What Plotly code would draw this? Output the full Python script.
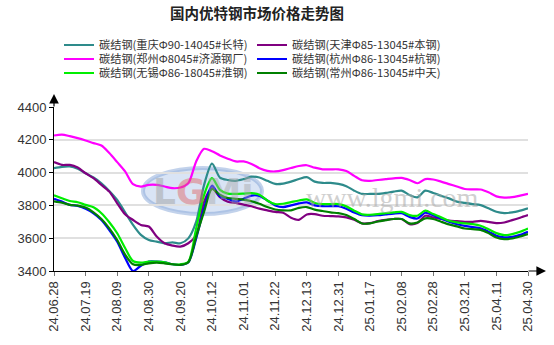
import plotly.graph_objects as go

# Tick labels (one every 4 sample points)
tick_labels = ["24.06.28", "24.07.19", "24.08.09", "24.08.30", "24.09.20", "24.10.12",
               "24.11.01", "24.11.22", "24.12.13", "24.12.31", "25.01.17", "25.02.08",
               "25.02.28", "25.03.21", "25.04.11", "25.04.30"]

# Price series (元/吨), 61 samples each
chongqing = [4027, 4035, 4037, 4023, 3996, 3970, 3935, 3888, 3833, 3758, 3681, 3620, 3589, 3579, 3569, 3575,
             3569, 3599, 3701, 3925, 4055, 3970, 3955, 3950, 3960, 3975, 3970, 3950, 3931, 3933, 3945, 3961,
             3972, 3945, 3937, 3937, 3931, 3917, 3890, 3870, 3870, 3870, 3876, 3884, 3890, 3864, 3849, 3890,
             3876, 3859, 3843, 3823, 3815, 3808, 3802, 3782, 3761, 3753, 3757, 3768, 3782]
tianjin = [4064, 4047, 4047, 4031, 3996, 3966, 3925, 3884, 3813, 3746, 3711, 3681, 3671, 3610, 3569, 3555,
           3549, 3569, 3620, 3823, 3905, 3850, 3822, 3815, 3805, 3795, 3780, 3770, 3760, 3755, 3725, 3712,
           3745, 3747, 3737, 3735, 3733, 3727, 3712, 3690, 3692, 3704, 3712, 3717, 3717, 3686, 3692, 3737,
           3727, 3717, 3708, 3704, 3700, 3700, 3706, 3700, 3692, 3696, 3710, 3725, 3741]
zhengzhou = [4226, 4232, 4222, 4210, 4196, 4180, 4165, 4119, 4064, 4007, 3929, 3915, 3925, 3925, 3915, 3905,
             3909, 3935, 4068, 4145, 4130, 4105, 4085, 4068, 4068, 4053, 4027, 4011, 4007, 4015, 4028, 4040,
             4045, 4030, 4020, 4020, 4020, 4010, 3980, 3953, 3950, 3955, 3960, 3965, 3968, 3955, 3935, 3960,
             3958, 3945, 3930, 3915, 3900, 3898, 3897, 3880, 3855, 3848, 3850, 3860, 3870]
hangzhou = [3840, 3823, 3803, 3797, 3779, 3752, 3711, 3650, 3579, 3480, 3400, 3432, 3457, 3457, 3453, 3441,
            3437, 3453, 3599, 3783, 3920, 3855, 3840, 3825, 3840, 3860, 3858, 3830, 3800, 3790, 3800, 3812,
            3818, 3800, 3795, 3795, 3795, 3780, 3757, 3740, 3738, 3740, 3745, 3750, 3752, 3730, 3720, 3755,
            3740, 3720, 3700, 3685, 3675, 3668, 3660, 3640, 3615, 3605, 3608, 3620, 3639]
wuxi = [3862, 3844, 3827, 3819, 3803, 3789, 3752, 3697, 3630, 3540, 3461, 3451, 3457, 3457, 3453, 3441,
        3441, 3457, 3660, 3864, 3966, 3895, 3872, 3870, 3872, 3875, 3865, 3830, 3808, 3810, 3820, 3830,
        3837, 3815, 3808, 3808, 3808, 3794, 3768, 3745, 3743, 3747, 3753, 3757, 3761, 3741, 3737, 3768,
        3747, 3727, 3706, 3696, 3690, 3686, 3676, 3655, 3631, 3619, 3625, 3639, 3659]
changzhou = [3825, 3817, 3803, 3799, 3787, 3758, 3717, 3660, 3589, 3500, 3441, 3437, 3447, 3451, 3447, 3441,
             3437, 3453, 3610, 3762, 3900, 3865, 3845, 3840, 3835, 3825, 3810, 3790, 3775, 3770, 3770, 3785,
             3790, 3774, 3766, 3757, 3753, 3741, 3717, 3690, 3690, 3702, 3710, 3717, 3717, 3690, 3696, 3721,
             3717, 3700, 3684, 3672, 3659, 3655, 3651, 3631, 3604, 3594, 3598, 3610, 3625]

W, H = 554, 345
L, R, T, B = 54, 26, 107, 74
FONT = "Noto Sans CJK SC"

# name, values, colour, legend anchor side, anchor x (px), legend row centre (px from top)
series = [
    ("碳结钢(重庆Φ90-14045#长特)", chongqing, "#2e8b8b", "left", 59, 45),
    ("碳结钢(天津Φ85-13045#本钢)", tianjin, "#800080", "right", 446, 45),
    ("碳结钢(郑州Φ8045#济源钢厂)", zhengzhou, "#ff00ff", "left", 59, 59),
    ("碳结钢(杭州Φ86-13045#杭钢)", hangzhou, "#0000ff", "right", 446, 59),
    ("碳结钢(无锡Φ86-18045#淮钢)", wuxi, "#00ee00", "left", 59, 73),
    ("碳结钢(常州Φ86-13045#中天)", changzhou, "#008000", "right", 446, 73),
]

STEP = 4
x = list(range(len(chongqing)))

fig = go.Figure()
legends = {}
for i, (name, vals, color, side, lx, ly) in enumerate(series):
    key = "legend" if i == 0 else f"legend{i + 1}"
    fig.add_trace(go.Scatter(
        x=x, y=vals, name=name, mode="lines", legend=key,
        line=dict(color=color, width=2.2, shape="spline", smoothing=0.8),
    ))
    legends[key] = dict(
        orientation="h", xref="container", yref="container",
        xanchor=side, yanchor="middle", x=lx / W, y=1 - ly / H,
        font=dict(family=FONT, size=11.2, color="#333"),
        bgcolor="rgba(0,0,0,0)", itemclick=False,
    )

fig.update_layout(
    width=W, height=H,
    margin=dict(l=L, r=R, t=T, b=B),
    paper_bgcolor="white", plot_bgcolor="white",
    title=dict(text="<b>国内优特钢市场价格走势图</b>", xref="container", yref="container",
               x=257 / W, y=1 - 14 / H, xanchor="center", yanchor="middle",
               font=dict(family=FONT, size=14.5, color="#222")),
    xaxis=dict(
        range=[0, len(x) - 1], tickvals=[i * STEP for i in range(len(tick_labels))],
        ticktext=tick_labels, tickangle=-90, showgrid=False, zeroline=False,
        showline=True, linecolor="#000", linewidth=1,
        ticks="outside", ticklen=4, tickcolor="#777",
        tickfont=dict(family="Liberation Sans", size=13, color="#333"),
    ),
    yaxis=dict(
        range=[3400, 4400], tickvals=[3400, 3600, 3800, 4000, 4200, 4400],
        showgrid=True, gridcolor="#e0e0e0", gridwidth=1.5, zeroline=False,
        showline=True, linecolor="#000", linewidth=1,
        ticks="outside", ticklen=4, tickcolor="#000",
        tickfont=dict(family="Liberation Sans", size=13, color="#333"),
    ),
    showlegend=True,
    **legends,
)

# Axis arrows
fig.add_annotation(xref="paper", yref="paper", x=0, y=1 + 13 / (H - T - B), ax=0, ay=14,
                   text="", showarrow=True, arrowhead=2, arrowsize=1.6, arrowwidth=1.2, arrowcolor="#000")
fig.add_annotation(xref="paper", yref="paper", x=1 + 18 / (W - L - R), y=0, ax=-19, ay=0,
                   text="", showarrow=True, arrowhead=2, arrowsize=1.6, arrowwidth=1.2, arrowcolor="#000")

# Watermark logo and site address
fig.add_shape(type="circle", xref="paper", yref="paper", layer="below",
              x0=(143 - L) / 474, x1=(262 - L) / 474, y0=(271 - 214) / 164, y1=(271 - 168) / 164,
              fillcolor="rgba(170,195,232,0.45)", line=dict(color="rgba(120,155,210,0.45)", width=4))
fig.add_annotation(xref="paper", yref="paper", x=(203 - L) / 474, y=(271 - 191) / 164,
                   xanchor="center", yanchor="middle",
                   text='<span style="color:#9a9a9a">L</span><span style="color:#e06060">G</span>'
                        '<span style="color:#a8a8a8">Mi</span>',
                   showarrow=False, font=dict(family="DejaVu Sans", size=36, weight="bold"), opacity=0.45)
fig.add_annotation(xref="paper", yref="paper", x=(392 - L) / 474, y=(271 - 197) / 164,
                   xanchor="center", yanchor="middle",
                   text="www.lgmi.com", showarrow=False,
                   font=dict(family="Liberation Serif", size=28, color="#aaaaaa"), opacity=0.55)

fig.write_html("out.html")
